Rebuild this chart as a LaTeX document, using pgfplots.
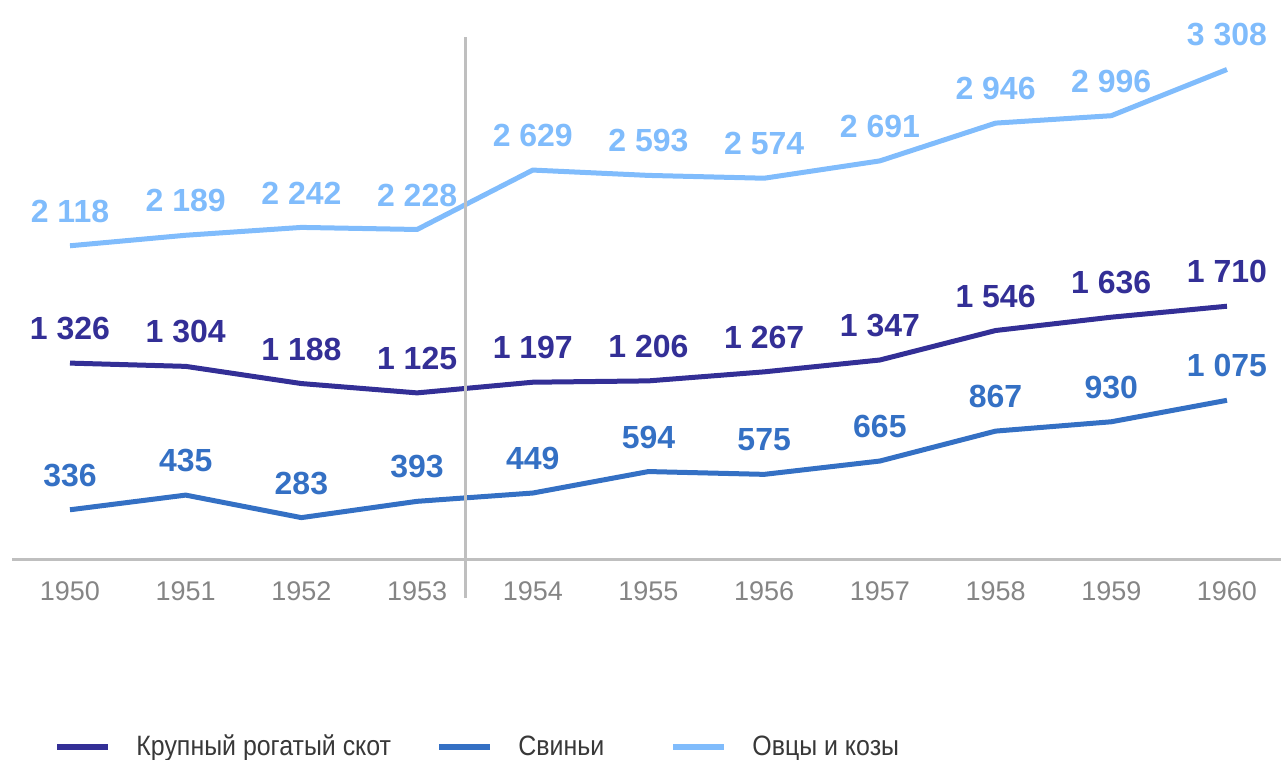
\documentclass[border=0pt]{standalone}
\usepackage{pgfplots}
\pgfplotsset{compat=1.18}
\usepackage{fontspec}
\setmainfont{Liberation Sans}
\newfontfamily\legfont[FakeStretch=0.89]{Liberation Sans}

\definecolor{cattle}{HTML}{332F96}
\definecolor{pigs}{HTML}{3470C4}
\definecolor{sheep}{HTML}{80BCFC}
\definecolor{axisgray}{HTML}{BFBFBF}
\definecolor{tickgray}{HTML}{858585}

\begin{document}
\begin{tikzpicture}
\begin{axis}[
    scale only axis,
    width=636.35pt,
    height=259.26pt,
    xmin=1949.5, xmax=1960.5,
    ymin=0, ymax=3500,
    clip=false,
    axis x line*=bottom,
    axis y line=none,
    x axis line style={axisgray, line width=1.2pt, -},
    xtick={1950,1951,...,1960},
    major tick length=0pt,
    ytick=\empty,
    /pgf/number format/assume math mode=true,
    xticklabel style={/pgf/number format/1000 sep=, font=\fontsize{13.5}{16}\selectfont, text=tickgray, yshift=-7.5pt},
    nodes near coords style={font=\fontsize{16}{19}\selectfont\bfseries, anchor=south, yshift=7pt,
        /pgf/number format/fixed, /pgf/number format/precision=0, /pgf/number format/1000 sep={\ }},
    legend columns=3,
    legend style={at={(axis cs:1949.862,-1264)}, anchor=west, draw=none, fill=none,
        inner sep=0pt, font=\legfont\fontsize{14}{17}\selectfont, text=black!78,
        nodes={inner sep=0pt},
        /tikz/every odd column/.append style={column sep=12.5pt},
        /tikz/every even column/.append style={column sep=0pt}},
    legend image code/.code={\draw[#1, line width=3pt] (0pt,0pt) -- (25.5pt,0pt);},
]
\addplot[cattle, line width=2.5pt, nodes near coords, every node near coord/.append style={text=cattle}] coordinates {
    (1950,1326) (1951,1304) (1952,1188) (1953,1125) (1954,1197) (1955,1206)
    (1956,1267) (1957,1347) (1958,1546) (1959,1636) (1960,1710)
};
\addlegendentry{\makebox[150pt][l]{Крупный рогатый скот}}

\addplot[pigs, line width=2.5pt, nodes near coords, every node near coord/.append style={text=pigs}] coordinates {
    (1950,336) (1951,435) (1952,283) (1953,393) (1954,449) (1955,594)
    (1956,575) (1957,665) (1958,867) (1959,930) (1960,1075)
};
\addlegendentry{\makebox[76pt][l]{Свиньи}}

\addplot[sheep, line width=2.5pt, nodes near coords, every node near coord/.append style={text=sheep}] coordinates {
    (1950,2118) (1951,2189) (1952,2242) (1953,2228) (1954,2629) (1955,2593)
    (1956,2574) (1957,2691) (1958,2946) (1959,2996) (1960,3308)
};
\addlegendentry{Овцы и козы}

% divider between 1953 and 1954
\addplot[axisgray, line width=1.5pt, forget plot] coordinates {
    (1953.42,-260) (1953.42,3530)
};

\coordinate (bbsw) at (axis cs:1949.395,-1347);
\coordinate (bbne) at (axis cs:1960.467,3777);
\end{axis}
\pgfresetboundingbox
\path[use as bounding box] (bbsw) rectangle (bbne);
\end{tikzpicture}
\end{document}
